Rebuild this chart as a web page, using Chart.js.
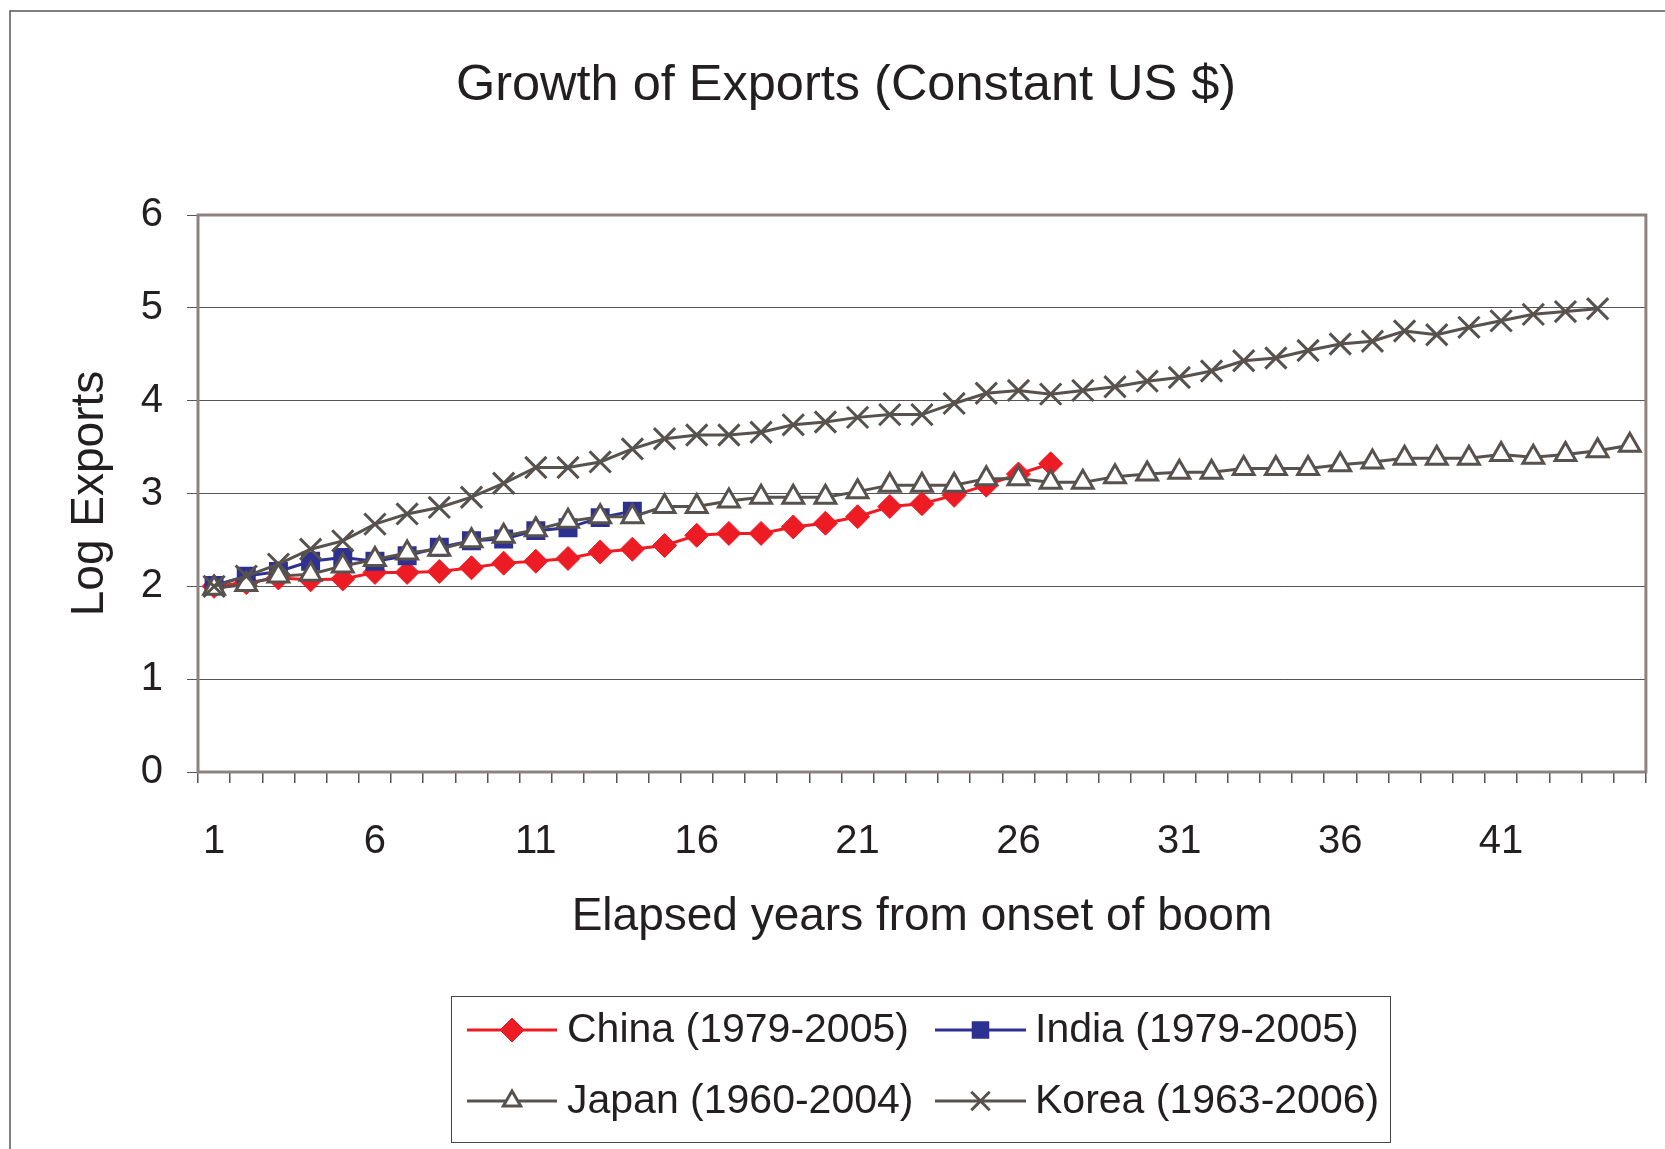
<!DOCTYPE html>
<html>
<head>
<meta charset="utf-8">
<title>Growth of Exports</title>
<script src="https://cdn.jsdelivr.net/npm/chart.js@4.4.1/dist/chart.umd.min.js"></script>
<style>
  html, body { margin: 0; padding: 0; background: #fff; }
  #wrap { width: 1665px; height: 1149px; }
</style>
</head>
<body>
<div id="wrap"><canvas id="exportsChart" width="1665" height="1149"></canvas></div>
<script>
// Jahre seit Beginn des Booms (Kategorien 1..45)
const years = [];
for (let i = 1; i <= 45; i++) years.push(String(i));

// Log-Exporte
const china = [2.00, 2.04, 2.09, 2.07, 2.08, 2.15, 2.15, 2.16, 2.20, 2.25,
               2.27, 2.30, 2.37, 2.40, 2.44, 2.55, 2.57, 2.57, 2.64, 2.68,
               2.75, 2.86, 2.89, 2.98, 3.09, 3.21, 3.32];
const india = [2.01, 2.11, 2.16, 2.27, 2.31, 2.27, 2.33, 2.42, 2.49, 2.51,
               2.60, 2.63, 2.74, 2.81];
const japan = [1.98, 2.02, 2.11, 2.13, 2.22, 2.29, 2.36, 2.40, 2.49, 2.54,
               2.61, 2.70, 2.75, 2.75, 2.86, 2.86, 2.92, 2.96, 2.96, 2.96,
               3.02, 3.09, 3.09, 3.09, 3.16, 3.16, 3.12, 3.12, 3.18, 3.21,
               3.23, 3.23, 3.27, 3.27, 3.27, 3.31, 3.34, 3.38, 3.38, 3.38,
               3.42, 3.39, 3.42, 3.46, 3.52];
const korea = [2.00, 2.11, 2.24, 2.40, 2.49, 2.67, 2.78, 2.85, 2.96, 3.11,
               3.28, 3.28, 3.34, 3.48, 3.59, 3.63, 3.63, 3.66, 3.74, 3.77,
               3.82, 3.85, 3.85, 3.97, 4.08, 4.11, 4.07, 4.11, 4.15, 4.21,
               4.25, 4.32, 4.43, 4.46, 4.54, 4.61, 4.64, 4.75, 4.71, 4.79,
               4.86, 4.93, 4.96, 4.99];

const seriesNames = ['China (1979-2005)', 'India (1979-2005)', 'Japan (1960-2004)', 'Korea (1963-2006)'];
const yTicks = [0, 1, 2, 3, 4, 5, 6];

const TEXT = '#231f20';
const FONT = "'Liberation Sans', Arial, sans-serif";
const GREY = '#58524e';

// Rahmen, Titel und Legende selbst zeichnen (Excel-Look)
const excelFrame = {
    id: 'excelFrame',
    beforeDatasetsDraw(chart) {
        const { ctx, chartArea: a } = chart;
        ctx.save();
        ctx.strokeStyle = '#8e827e';
        ctx.lineWidth = 3;
        ctx.strokeRect(a.left, a.top, a.right - a.left, a.bottom - a.top);
        ctx.restore();
    },
    afterDraw(chart) {
        const ctx = chart.ctx;
        ctx.save();
        // äußerer Rahmen (nur oben und links sichtbar)
        ctx.strokeStyle = '#555';
        ctx.lineWidth = 1.5;
        ctx.beginPath();
        ctx.moveTo(10, 1149);
        ctx.lineTo(10, 11);
        ctx.lineTo(1665, 11);
        ctx.stroke();

        // Titel
        ctx.fillStyle = TEXT;
        ctx.font = '50.5px ' + FONT;
        ctx.textAlign = 'center';
        ctx.textBaseline = 'middle';
        ctx.fillText('Growth of Exports (Constant US $)', 846, 86);

        // Legende
        ctx.strokeStyle = '#444';
        ctx.lineWidth = 1;
        ctx.strokeRect(451.5, 996.5, 939, 146);
        const cols = [{ x0: 467, x1: 557, tx: 567 }, { x0: 935, x1: 1026, tx: 1035 }];
        const rows = [1030, 1101];
        chart.data.datasets.forEach((ds, i) => {
            const c = cols[i % 2];
            const y = rows[Math.floor(i / 2)];
            ctx.strokeStyle = ds.borderColor;
            ctx.lineWidth = ds.borderWidth;
            ctx.beginPath();
            ctx.moveTo(c.x0, y);
            ctx.lineTo(c.x1, y);
            ctx.stroke();
            ctx.fillStyle = ds.pointBackgroundColor;
            ctx.strokeStyle = ds.pointBorderColor;
            ctx.lineWidth = ds.pointBorderWidth;
            Chart.helpers.drawPoint(ctx, {
                pointStyle: ds.pointStyle,
                radius: ds.legendRadius,
                rotation: 0,
                borderWidth: ds.pointBorderWidth
            }, (c.x0 + c.x1) / 2, y);
            ctx.fillStyle = TEXT;
            ctx.font = '41px ' + FONT;
            ctx.textAlign = 'left';
            ctx.textBaseline = 'middle';
            ctx.fillText(ds.label, c.tx, y + 1);
        });
        ctx.restore();
    }
};

const ctx = document.getElementById('exportsChart').getContext('2d');
new Chart(ctx, {
    type: 'line',
    data: {
        labels: years,
        datasets: [
            {
                label: seriesNames[0], data: china, order: 3,
                borderColor: '#ed1c24', borderWidth: 3,
                pointStyle: 'rectRot', pointRadius: 12, legendRadius: 12,
                pointBackgroundColor: '#ed1c24', pointBorderColor: '#ed1c24', pointBorderWidth: 1
            },
            {
                label: seriesNames[1], data: india, order: 2,
                borderColor: '#2e3192', borderWidth: 3,
                pointStyle: 'rect', pointRadius: 12, legendRadius: 11,
                pointBackgroundColor: '#2e3192', pointBorderColor: '#2e3192', pointBorderWidth: 2
            },
            {
                label: seriesNames[2], data: japan, order: 1,
                borderColor: GREY, borderWidth: 3,
                pointStyle: 'triangle', pointRadius: 12, legendRadius: 10,
                pointBackgroundColor: '#ffffff', pointBorderColor: GREY, pointBorderWidth: 3
            },
            {
                label: seriesNames[3], data: korea, order: 0,
                borderColor: GREY, borderWidth: 3,
                pointStyle: 'crossRot', pointRadius: 15, legendRadius: 13,
                pointBackgroundColor: GREY, pointBorderColor: GREY, pointBorderWidth: 3
            }
        ]
    },
    options: {
        responsive: false,
        animation: false,
        layout: { padding: { left: 0, right: 8, top: 215, bottom: 187 } },
        plugins: {
            legend: { display: false },
            title: { display: false },
            tooltip: { enabled: false }
        },
        elements: { line: { tension: 0 } },
        scales: {
            x: {
                type: 'category',
                offset: true,
                border: { display: false },
                grid: { drawOnChartArea: false, drawTicks: true, tickLength: 11, offset: true, color: '#555', lineWidth: 1.5 },
                ticks: {
                    autoSkip: false, maxRotation: 0, padding: 35,
                    color: TEXT, font: { family: FONT, size: 40 },
                    callback: (v, i) => (i % 5 === 0 ? years[i] : '')
                },
                title: {
                    display: true, text: 'Elapsed years from onset of boom',
                    color: TEXT, font: { family: FONT, size: 46 },
                    padding: { top: 0, bottom: 17 }
                },
                afterFit: s => { s.height = 190; }
            },
            y: {
                min: 0, max: 6,
                border: { display: false },
                grid: { color: '#555', lineWidth: 1, drawTicks: true, tickLength: 11 },
                afterBuildTicks: s => { s.ticks = yTicks.map(v => ({ value: v })); },
                ticks: {
                    padding: 24, color: TEXT, font: { family: FONT, size: 40 }
                },
                title: {
                    display: true, text: 'Log Exports',
                    color: TEXT, font: { family: FONT, size: 46 },
                    padding: { top: 63, bottom: 0 }
                },
                afterFit: s => { s.width = 198; }
            }
        }
    },
    plugins: [excelFrame]
});
</script>
</body>
</html>
